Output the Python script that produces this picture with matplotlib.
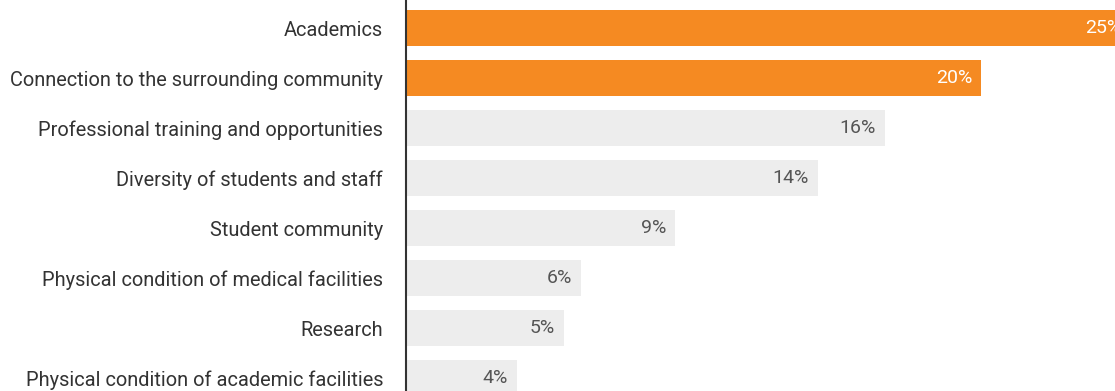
import matplotlib.pyplot as plt

# donnees
categories = ["Academics",
              "Connection to the surrounding community",
              "Professional training and opportunities",
              "Diversity of students and staff",
              "Student community",
              "Physical condition of medical facilities",
              "Research",
              "Physical condition of academic facilities"]
values = [24.8, 19.7, 16.4, 14.1, 9.2, 6.0, 5.4, 3.8]
value_labels = ["25%", "20%", "16%", "14%", "9%", "6%", "5%", "4%"]
highlight = [True, True, False, False, False, False, False, False]

orange = "#F58A22"
grey = "#EDEDED"

plt.rcParams['font.family'] = ['Roboto', 'DejaVu Sans']

W, H = 1115, 391
fig = plt.figure(figsize=(W/100, H/100), dpi=100)
ax = fig.add_axes([406/W, 0, 1 - 406/W, 1])

colors = [orange if h else grey for h in highlight]
pos = list(range(len(categories)))
ax.barh(pos, values, height=0.72, color=colors)

ax.set_xlim(0, 709/29.2)
ax.set_ylim((H - 28)/50, -28/50)

for i in pos:
    tc = "white" if highlight[i] else "#555555"
    ax.text(values[i] - 0.3, i, value_labels[i], ha="right", va="center",
            color=tc, fontsize=14)

ax.set_yticks(pos)
ax.set_yticklabels(categories, fontsize=14.4, color="#333333")
ax.tick_params(axis="y", length=0, pad=16.5)
ax.set_xticks([])

for s in ["top", "right", "bottom"]:
    ax.spines[s].set_visible(False)
ax.spines["left"].set_color("#333333")
ax.spines["left"].set_linewidth(1.5)

fig.savefig("out.png", dpi=100)
